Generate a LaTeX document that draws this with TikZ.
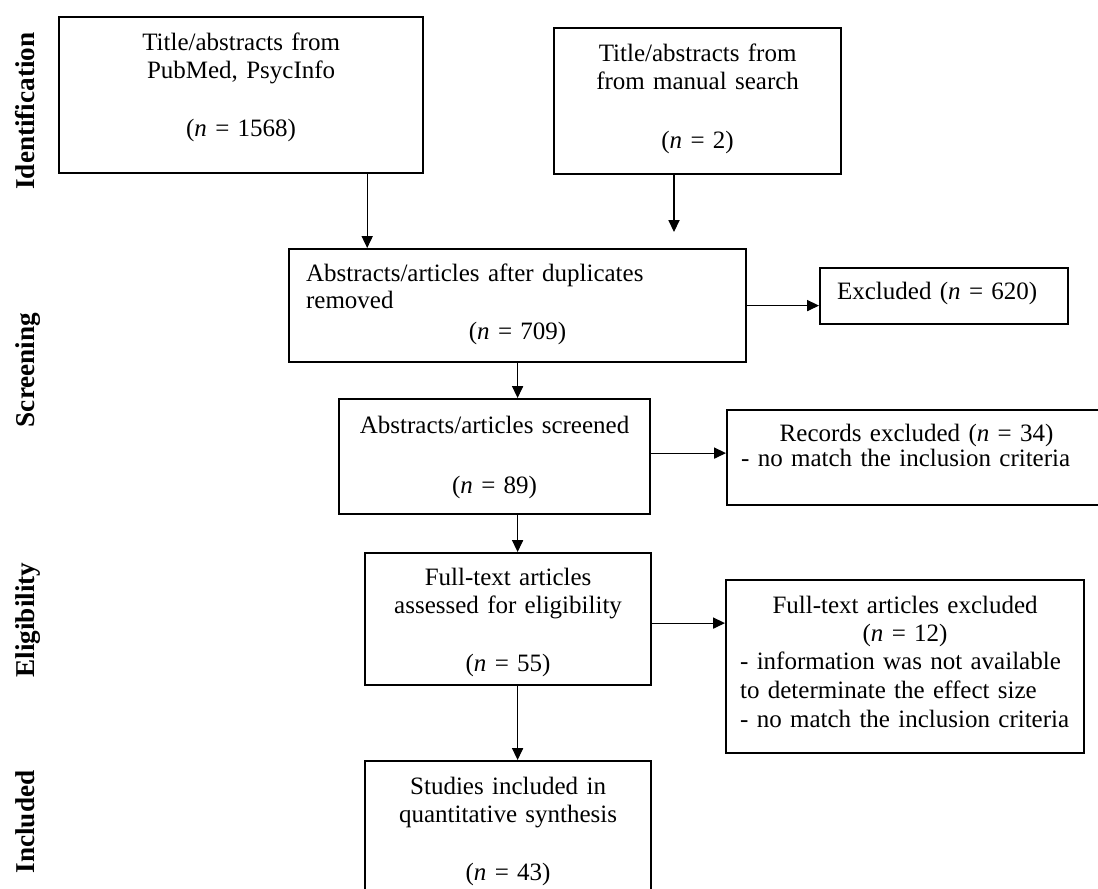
\documentclass[tikz,border=0pt]{standalone}
\usepackage{fontspec}
\setmainfont{Liberation Serif}
\usetikzlibrary{arrows.meta}
\newcommand{\ncnt}[1]{(\textit{n} = #1)}
\newcommand{\midline}[1]{\makebox[\linewidth]{#1}}

\begin{document}
\begin{tikzpicture}[x=0.5pt,y=-0.5pt,box/.style={draw,line width=1.1pt,anchor=north west,
	inner xsep=8.5pt,inner ysep=0pt,font=\fontsize{12.5}{14.2}\selectfont},
	arr/.style={line width=0.55pt,-{Triangle[length=6pt,width=5.6pt]}},
	phase/.style={rotate=90,anchor=base,font=\fontsize{13.6}{16}\selectfont\bfseries}]
\useasboundingbox (0,0) rectangle (1098,889);
\node[phase] (ident) at (34,111) {Identification};
\node[phase] (screen) at (34,370) {Screening};
\node[phase] (elig) at (34,620) {Eligibility};
\node[phase] (incl) at (34,822) {Included};
\node[box,align=center,text width=165pt,text height=16.5pt,text depth=61.5pt] (pubmed) at (58,16)
	{Title/abstracts from\\PubMed, PsycInfo\\[14.8pt]\ncnt{1568}};
\node[box,align=center,text width=126.5pt,text height=16.5pt,text depth=56.5pt] (manual) at (553,27)
	{Title/abstracts from\\from manual search\\[15.3pt]\ncnt{2}};
\node[box,align=left,text width=211.5pt,text height=16pt,text depth=40.5pt] (dupl) at (288,248)
	{Abstracts/articles after duplicates\\[-0.7pt]removed\\[1.3pt]\midline{\ncnt{709}}};
\node[box,align=left,text width=107pt,text height=15.5pt,text depth=12.5pt] (excl) at (819,267)
	{Excluded \ncnt{620}};
\node[box,align=center,text width=138.5pt,text height=17pt,text depth=40.5pt] (screened) at (338,398)
	{Abstracts/articles screened\\[15.8pt]\ncnt{89}};
\node[box,align=left,inner xsep=7pt,text width=175.5pt,text height=15.5pt,text depth=32pt] (recex) at (726,409)
	{\midline{Records excluded \ncnt{34}}\\[-1.7pt]- no match the inclusion criteria};
\node[box,align=center,text width=126pt,text height=16pt,text depth=50pt] (fulltext) at (364,552)
	{Full-text articles\\assessed for eligibility\\[14.8pt]\ncnt{55}};
\node[box,align=left,inner xsep=7pt,text width=165pt,text height=16.5pt,text depth=70pt] (ftex) at (725,579)
	{\midline{Full-text articles excluded}\\\midline{\ncnt{12}}\\- information was not available\\to determinate the effect size\\[0.5pt]- no match the inclusion criteria};
\node[box,align=center,text width=126pt,text height=16.5pt,text depth=53.5pt] (studies) at (364,760)
	{Studies included in\\quantitative synthesis\\[14.8pt]\ncnt{43}};
\coordinate (mantip) at (674,232);
\draw[arr] ([xshift=-28.5pt]pubmed.south east) -- ([xshift=-28.5pt]pubmed.south east |- dupl.north);
\draw[arr] (manual.south -| mantip) -- (mantip);
\draw[arr] (dupl.east) -- (dupl.east -| excl.west);
\draw[arr] (dupl.south) -- (dupl.south |- screened.north);
\draw[arr] ([yshift=1.75pt]screened.east) -- ([yshift=1.75pt]screened.east -| recex.west);
\draw[arr] (screened.south -| dupl.south) -- (fulltext.north -| dupl.south);
\draw[arr] ([yshift=-2pt]fulltext.east) -- ([yshift=-2pt]fulltext.east -| ftex.west);
\draw[arr] (fulltext.south -| dupl.south) -- (studies.north -| dupl.south);
\end{tikzpicture}
\end{document}
